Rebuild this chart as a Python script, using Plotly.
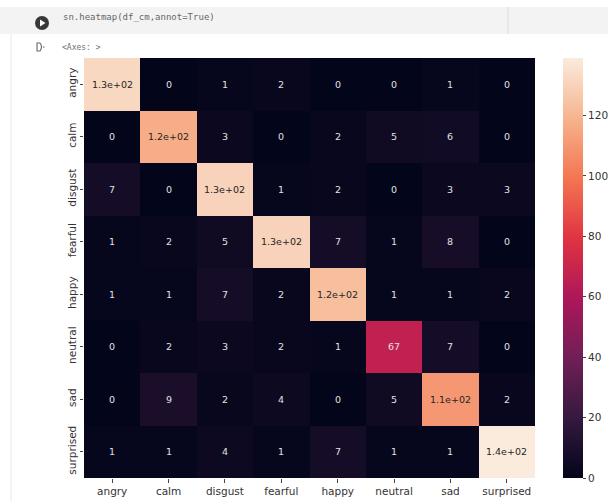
import plotly.graph_objects as go

# Confusion matrix of the emotion classifier (rows = true, columns = predicted)
labels = ["angry", "calm", "disgust", "fearful", "happy", "neutral", "sad", "surprised"]
row_angry = [132, 0, 1, 2, 0, 0, 1, 0]
row_calm = [0, 117, 3, 0, 2, 5, 6, 0]
row_disgust = [7, 0, 130, 1, 2, 0, 3, 3]
row_fearful = [1, 2, 5, 130, 7, 1, 8, 0]
row_happy = [1, 1, 7, 2, 123, 1, 1, 2]
row_neutral = [0, 2, 3, 2, 1, 67, 7, 0]
row_sad = [0, 9, 2, 4, 0, 5, 110, 2]
row_surprised = [1, 1, 4, 1, 7, 1, 1, 139]
cm = [row_angry, row_calm, row_disgust, row_fearful,
      row_happy, row_neutral, row_sad, row_surprised]
colorbar_ticks = [0, 20, 40, 60, 80, 100, 120]

# seaborn "rocket" colormap
rocket = [
    [0.0, "#03051a"], [1 / 7, "#35193e"], [2 / 7, "#701f57"], [3 / 7, "#ad1759"],
    [4 / 7, "#e13342"], [5 / 7, "#f37651"], [6 / 7, "#f6b48f"], [1.0, "#faebdd"],
]

W, H = 608, 501
L, R, T, B = 84, 535, 58, 478


def px(x):
    return (x - L) / (R - L)


def py(y):
    return (B - y) / (B - T)


vmax = max(max(r) for r in cm)

fig = go.Figure(go.Heatmap(
    z=cm, x=labels, y=labels, colorscale=rocket, zmin=0, zmax=vmax,
    hoverinfo="skip",
    colorbar=dict(
        thickness=20, len=1, lenmode="fraction", x=px(563), xanchor="left",
        y=0.5, yanchor="middle", xpad=0, ypad=0, outlinewidth=0,
        ticks="outside", ticklen=3.5, tickwidth=0.8, tickcolor="#444",
        tickvals=colorbar_ticks, tickfont=dict(family="DejaVu Sans", size=10.5, color="#333"),
    ),
))

# cell annotations, formatted like seaborn's default '.2g'
annotations = []
for i, row in enumerate(cm):
    for j, v in enumerate(row):
        frac = v / vmax
        annotations.append(dict(
            x=labels[j], y=labels[i], xref="x", yref="y", text=format(v, ".2g"),
            showarrow=False,
            font=dict(family="DejaVu Sans", size=9.5,
                      color="#262626" if frac > 0.6 else "#e2e2e2"),
        ))

# notebook cell header: code line and output prompt
annotations.append(dict(
    x=px(61), y=py(17), xref="paper", yref="paper", xanchor="left", yanchor="middle",
    text="sn.heatmap(df_cm,annot=True)", showarrow=False,
    font=dict(family="DejaVu Sans Mono", size=9, color="#666666"),
))
annotations.append(dict(
    x=px(60), y=py(47), xref="paper", yref="paper", xanchor="left", yanchor="middle",
    text="&lt;Axes: &gt;", showarrow=False,
    font=dict(family="DejaVu Sans Mono", size=8, color="#707070"),
))

shapes = [
    # code cell background
    dict(type="rect", xref="paper", yref="paper", x0=px(0), x1=px(W), y0=py(34), y1=py(7),
         fillcolor="#f3f3f3", line=dict(width=0), layer="below"),
    dict(type="line", xref="paper", yref="paper", x0=px(508), x1=px(508), y0=py(34), y1=py(7),
         line=dict(color="#dcdcdc", width=1)),
    # left gutter rule
    dict(type="line", xref="paper", yref="paper", x0=px(11), x1=px(11), y0=py(W), y1=py(34),
         line=dict(color="#e8e8e8", width=1)),
    # run button
    dict(type="circle", xref="paper", yref="paper", x0=px(35), x1=px(49), y0=py(30), y1=py(16),
         fillcolor="#383838", line=dict(width=0)),
    dict(type="path", xref="paper", yref="paper",
         path=f"M {px(40)},{py(19.5)} L {px(45.5)},{py(23)} L {px(40)},{py(26.5)} Z",
         fillcolor="#ffffff", line=dict(width=0)),
    # output prompt icon
    dict(type="path", xref="paper", yref="paper",
         path=(f"M {px(37)},{py(43)} L {px(40)},{py(43)} Q {px(43)},{py(47)} {px(40)},{py(51)} "
               f"L {px(37)},{py(51)} Z"),
         fillcolor="rgba(0,0,0,0)", line=dict(color="#666", width=1.1)),
    dict(type="line", xref="paper", yref="paper", x0=px(43), x1=px(44.5), y0=py(47), y1=py(47),
         line=dict(color="#666", width=1.1)),
]

axis_font = dict(family="DejaVu Sans", size=10.5, color="#333")
fig.update_layout(
    width=W, height=H,
    margin=dict(l=L, r=W - R, t=T, b=H - B, autoexpand=False),
    paper_bgcolor="white", plot_bgcolor="white",
    annotations=annotations, shapes=shapes,
    xaxis=dict(type="category", ticks="outside", ticklen=3.5, tickwidth=0.8, tickcolor="#444",
               tickfont=axis_font, showgrid=False, zeroline=False, showline=False,
               tickangle=0, automargin=False),
    yaxis=dict(type="category", autorange="reversed", ticks="outside", ticklen=3.5,
               tickwidth=0.8, tickcolor="#444", tickfont=axis_font, tickangle=-90,
               showgrid=False, zeroline=False, showline=False, ticklabelstandoff=-1,
               automargin=False),
)

fig.write_html("out.html")
